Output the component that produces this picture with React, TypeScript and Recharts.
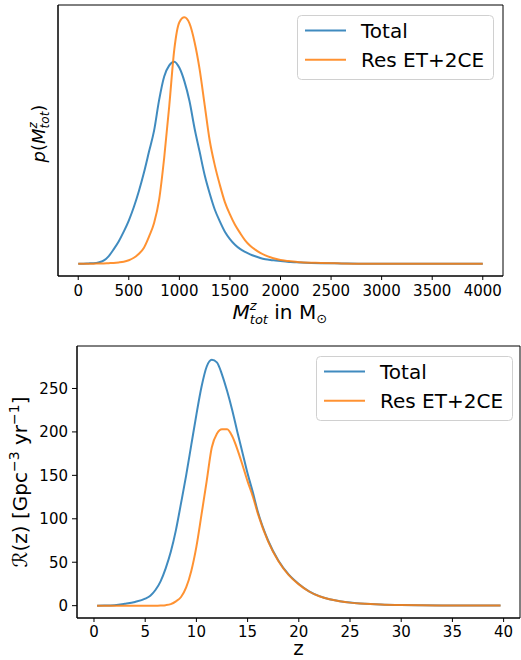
import { LineChart, Line, XAxis, YAxis, Legend, Label, ReferenceArea } from "recharts";

// top panel: total mass distribution (normalised so the resolved peak is 1)
const MASS = [
  0, 50, 100, 150, 200, 250, 300, 350, 400, 450, 500, 550, 600, 650, 700, 750, 800, 850, 900, 950,
  1000, 1050, 1100, 1150, 1200, 1250, 1300, 1350, 1400, 1450, 1500, 1550, 1600, 1650, 1700, 1750,
  1800, 1850, 1900, 1950, 2000, 2050, 2100, 2150, 2200, 2400, 2600, 2800, 3000, 3200, 3400, 3600,
  3800, 4000,
];
const MASS_TOTAL = [
  0, 0, 0.001, 0.002, 0.005, 0.012, 0.03, 0.058, 0.09, 0.13, 0.175, 0.23, 0.295, 0.37, 0.455, 0.54,
  0.665, 0.76, 0.805, 0.82, 0.795, 0.74, 0.66, 0.55, 0.455, 0.36, 0.285, 0.22, 0.172, 0.13, 0.1,
  0.077, 0.06, 0.048, 0.038, 0.03, 0.023, 0.018, 0.015, 0.013, 0.011, 0.009, 0.007, 0.006, 0.005,
  0.002, 0.001, 0, 0, 0, 0, 0, 0, 0,
];
const MASS_RES = [
  0, 0, 0, 0, 0.001, 0.001, 0.002, 0.003, 0.005, 0.008, 0.014, 0.024, 0.04, 0.065, 0.11, 0.165,
  0.26, 0.43, 0.64, 0.87, 0.98, 1.0, 0.975, 0.9, 0.79, 0.645, 0.5, 0.4, 0.32, 0.25, 0.2, 0.158,
  0.125, 0.095, 0.073, 0.057, 0.044, 0.034, 0.026, 0.02, 0.015, 0.012, 0.01, 0.008, 0.006, 0.003,
  0.001, 0, 0, 0, 0, 0, 0, 0,
];
const MASS_TICKS = [0, 500, 1000, 1500, 2000, 2500, 3000, 3500, 4000];
const MASS_DOMAIN = [-200, 4200];
const P_DOMAIN = [-0.05, 1.05];

// bottom panel: merger rate vs redshift
const Z = [
  0.3, 1, 2, 3, 4, 5, 5.5, 6, 6.5, 7, 7.5, 8, 8.5, 9, 9.5, 10, 10.5, 11, 11.5, 12, 12.5, 13, 13.5,
  14, 14.5, 15, 15.5, 16, 17, 18, 19, 20, 21, 22, 23, 24, 25, 26, 27, 28, 30, 32, 34, 36, 38, 39.7,
];
const RATE_TOTAL = [
  0, 0.1, 0.6, 2.2, 4.3, 8, 11.5, 18, 28, 43, 62, 87, 118, 150, 185, 220, 252, 275, 283, 280, 266,
  247, 225, 200, 176, 152, 131, 108, 75, 52, 36, 25, 16.5, 11, 7.4, 5.2, 3.6, 2.6, 1.9, 1.4, 0.8,
  0.5, 0.3, 0.2, 0.1, 0.1,
];
const RATE_RES = [
  0, 0, 0, 0, 0, 0, 0, 0, 0.2, 0.6, 1.8, 5, 10, 21, 40, 68, 105, 143, 182, 198, 203, 203, 195, 180,
  162, 143, 126, 106, 74, 51.5, 35.5, 24.5, 16.3, 10.8, 7.3, 5.1, 3.5, 2.5, 1.8, 1.3, 0.7, 0.4, 0.3,
  0.2, 0.1, 0.1,
];
const Z_TICKS = [0, 5, 10, 15, 20, 25, 30, 35, 40];
const RATE_TICKS = [0, 50, 100, 150, 200, 250];
const Z_DOMAIN = [-1.66, 41.6];
const RATE_DOMAIN = [-14.2, 298.9];

const SERIES = ["Total", "Res ET+2CE"];

const BLUE = "#1f77b4";
const ORANGE = "#ff7f0e";
const FONT = "DejaVu Sans, sans-serif";
const INK = "#000";

const massData = MASS.map((m, i) => ({ m, total: MASS_TOTAL[i], res: MASS_RES[i] }));
const rateData = Z.map((z, i) => ({ z, total: RATE_TOTAL[i], res: RATE_RES[i] }));

const tickStyle = { fill: INK, fontSize: 15, fontFamily: FONT };

const LegendBox = ({ payload }: any) => {
  const items = [...(payload || [])].sort((a: any, b: any) => SERIES.indexOf(a.value) - SERIES.indexOf(b.value));
  return (
    <svg width={198} height={66} style={{ display: "block" }}>
      <rect x={0.5} y={0.5} width={196} height={64} rx={4} fill="#fff" fillOpacity={0.8} stroke="#d0d0d0" />
      {items.map((p: any, i: number) => (
        <g key={p.value}>
          <line x1={8} x2={49} y1={15.5 + i * 29.3} y2={15.5 + i * 29.3} stroke={p.color} strokeOpacity={0.85} strokeWidth={2} />
          <text x={64} y={23 + i * 29.3} fontSize={20} fontFamily={FONT} fill={INK}>
            {p.value}
          </text>
        </g>
      ))}
    </svg>
  );
};

const MassXLabel = ({ viewBox }: any) => {
  const cx = viewBox.x + viewBox.width / 2;
  return (
    <text x={cx - 48} y={viewBox.y + 43} fontSize={20} fontFamily={FONT} fill={INK}>
      <tspan fontStyle="italic">M</tspan>
      <tspan fontSize={13} fontStyle="italic" dy={-9}>z</tspan>
      <tspan fontSize={13} fontStyle="italic" dx={-6.8} dy={14}>tot</tspan>
      <tspan dy={-5}> in M</tspan>
      <tspan fontSize={13} dy={4}>⊙</tspan>
    </text>
  );
};

const MassYLabel = ({ viewBox }: any) => {
  const x = 45;
  const y = viewBox.y + viewBox.height / 2 - 7;
  return (
    <text x={x} y={y} transform={`rotate(-90 ${x} ${y})`} textAnchor="middle" fontSize={18} fontFamily={FONT} fill={INK}>
      <tspan fontStyle="italic">p</tspan>(<tspan fontStyle="italic">M</tspan>
      <tspan fontSize={12} fontStyle="italic" dy={-8}>z</tspan>
      <tspan fontSize={12} fontStyle="italic" dx={-6.3} dy={12}>tot</tspan>
      <tspan dy={-4}>)</tspan>
    </text>
  );
};

const RateXLabel = ({ viewBox }: any) => (
  <text x={viewBox.x + viewBox.width / 2} y={viewBox.y + 37} textAnchor="middle" fontSize={20} fontFamily={FONT} fill={INK}>
    z
  </text>
);

const RateYLabel = ({ viewBox }: any) => {
  const x = 27;
  const y = viewBox.y + viewBox.height / 2;
  return (
    <text x={x} y={y} transform={`rotate(-90 ${x} ${y})`} textAnchor="middle" fontSize={20} fontFamily={FONT} fill={INK}>
      ℛ(z) [Gpc<tspan fontSize={14} dy={-8}>−3</tspan>
      <tspan dy={8}> yr</tspan>
      <tspan fontSize={14} dy={-8}>−1</tspan>
      <tspan dy={8}>]</tspan>
    </text>
  );
};

export default function App() {
  return (
    <div style={{ position: "absolute", left: 0, top: 0, width: 521, height: 660, background: "#fff" }}>
      <div style={{ position: "absolute", left: 0, top: 0 }}>
        <LineChart width={521} height={330} data={massData} margin={{ top: 5, right: 18, left: 0, bottom: 0 }}>
          <XAxis
            xAxisId="b"
            dataKey="m"
            type="number"
            domain={MASS_DOMAIN}
            allowDataOverflow
            ticks={MASS_TICKS}
            height={54}
            tickSize={4}
            tickMargin={5}
            tick={tickStyle}
            stroke={INK}
            label={<Label content={MassXLabel} />}
          />
          <YAxis
            yAxisId="l"
            type="number"
            domain={P_DOMAIN}
            allowDataOverflow
            width={58}
            tick={false}
            tickLine={false}
            stroke={INK}
            label={<Label content={MassYLabel} />}
          />
          <ReferenceArea
            xAxisId="b"
            yAxisId="l"
            x1={MASS_DOMAIN[0]}
            x2={MASS_DOMAIN[1]}
            y1={P_DOMAIN[0]}
            y2={P_DOMAIN[1]}
            fill="none"
            stroke={INK}
            strokeWidth={1}
            ifOverflow="visible"
          />
          <Legend
            content={LegendBox}
            layout="horizontal"
            verticalAlign="middle"
            align="center"
            wrapperStyle={{ left: 297, top: 15, width: 198, height: 66 }}
          />
          <Line xAxisId="b" yAxisId="l" type="monotone" dataKey="total" name="Total" stroke={BLUE} strokeOpacity={0.85} strokeWidth={2} dot={false} isAnimationActive={false} />
          <Line xAxisId="b" yAxisId="l" type="monotone" dataKey="res" name="Res ET+2CE" stroke={ORANGE} strokeOpacity={0.85} strokeWidth={2} dot={false} isAnimationActive={false} />
        </LineChart>
      </div>
      <div style={{ position: "absolute", left: 0, top: 330 }}>
        <LineChart width={521} height={330} data={rateData} margin={{ top: 16, right: 1, left: 0, bottom: 0 }}>
          <XAxis
            xAxisId="b"
            dataKey="z"
            type="number"
            domain={Z_DOMAIN}
            allowDataOverflow
            ticks={Z_TICKS}
            height={42}
            tickSize={4}
            tickMargin={4}
            tick={tickStyle}
            stroke={INK}
            label={<Label content={RateXLabel} />}
          />
          <YAxis
            yAxisId="l"
            type="number"
            domain={RATE_DOMAIN}
            allowDataOverflow
            ticks={RATE_TICKS}
            width={77}
            tickSize={5}
            tickMargin={4}
            tick={tickStyle}
            stroke={INK}
            label={<Label content={RateYLabel} />}
          />
          <ReferenceArea
            xAxisId="b"
            yAxisId="l"
            x1={Z_DOMAIN[0]}
            x2={Z_DOMAIN[1]}
            y1={RATE_DOMAIN[0]}
            y2={RATE_DOMAIN[1]}
            fill="none"
            stroke={INK}
            strokeWidth={1}
            ifOverflow="visible"
          />
          <Legend
            content={LegendBox}
            layout="horizontal"
            verticalAlign="middle"
            align="center"
            wrapperStyle={{ left: 316, top: 26, width: 198, height: 66 }}
          />
          <Line xAxisId="b" yAxisId="l" type="monotone" dataKey="total" name="Total" stroke={BLUE} strokeOpacity={0.85} strokeWidth={2} dot={false} isAnimationActive={false} />
          <Line xAxisId="b" yAxisId="l" type="monotone" dataKey="res" name="Res ET+2CE" stroke={ORANGE} strokeOpacity={0.85} strokeWidth={2} dot={false} isAnimationActive={false} />
        </LineChart>
      </div>
    </div>
  );
}
